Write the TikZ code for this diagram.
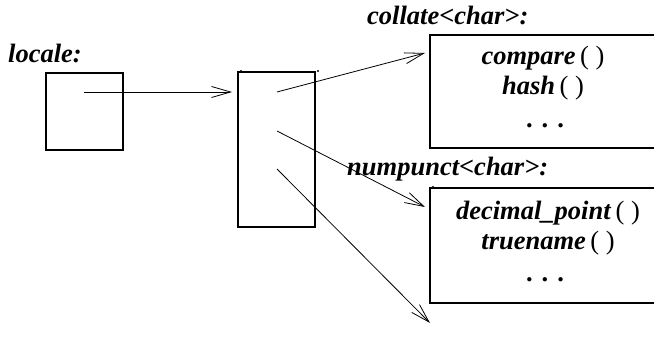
\documentclass[tikz,border=0pt]{standalone}
\usepackage{fontspec}
\setmainfont{Liberation Serif}
\usetikzlibrary{arrows.meta}
\begin{document}
\begin{tikzpicture}[x=1pt,y=-1pt,
  box/.style={draw, line width=1.1pt, inner sep=0pt, outer sep=0pt},
  lbl/.style={anchor=base west, inner sep=0pt, font=\fontsize{26.5}{30}\selectfont\bfseries\itshape},
  fn/.style={anchor=base, inner sep=0pt, font=\fontsize{26.5}{30}\selectfont},
  conn/.style={line width=0.8pt, -{Straight Barb[length=19pt,width=11pt,line width=0.8pt]}},
  dot/.style={circle, fill, inner sep=0pt, minimum size=2.2pt}]
\useasboundingbox (0,0) rectangle (654,344);
\clip (0,0) rectangle (654,344);
% boxes
\node[box, minimum width=77pt, minimum height=77pt] (loc) at (84.5,111.5) {};
\node[box, minimum width=77pt, minimum height=155pt] (mid) at (276.5,149.5) {};
\node[box, minimum width=232pt, minimum height=113pt] (col) at (546,91.5) {};
\node[box, minimum width=232pt, minimum height=115pt] (num) at (546,245.5) {};
% labels
\node[lbl] (locl) at (8,63) {locale:};
\node[lbl] (coll) at (367,25) {collate<char>:};
\node[lbl] (numl) at (347,176) {numpunct<char>:};
% contents
\node[fn] (f1) at (543,65) {\textbf{\textit{compare}}\,( )};
\node[fn] (f2) at (543,95) {\textbf{\textit{hash}}\,( )};
\node[fn] (f3) at (545,128) {\textbf{.}\hspace{9pt}\textbf{.}\hspace{9pt}\textbf{.}};
\node[fn] (g1) at (548,220) {\textbf{\textit{decimal\_point}}\,( )};
\node[fn] (g2) at (548,250) {\textbf{\textit{truename}}\,( )};
\node[fn] (g3) at (545,282) {\textbf{.}\hspace{9pt}\textbf{.}\hspace{9pt}\textbf{.}};
% connector endpoints
\coordinate (s0) at (84,92);
\coordinate (e0) at (232,92);
\coordinate (s1) at (277,92);
\coordinate (e1) at (425,53);
\coordinate (s2) at (277,131);
\coordinate (e2) at (425,207);
\coordinate (s3) at (277,169);
\coordinate (e3) at (430,323);
\draw[conn] (s0) -- (e0);
\draw[conn] (s1) -- (e1);
\draw[conn] (s2) -- (e2);
\draw[conn] (s3) -- (e3);
% small dots
\node[dot] (d1) at (241,71) {};
\node[dot] (d2) at (318,71) {};
\node[dot] (d3) at (433,187) {};
\end{tikzpicture}
\end{document}
